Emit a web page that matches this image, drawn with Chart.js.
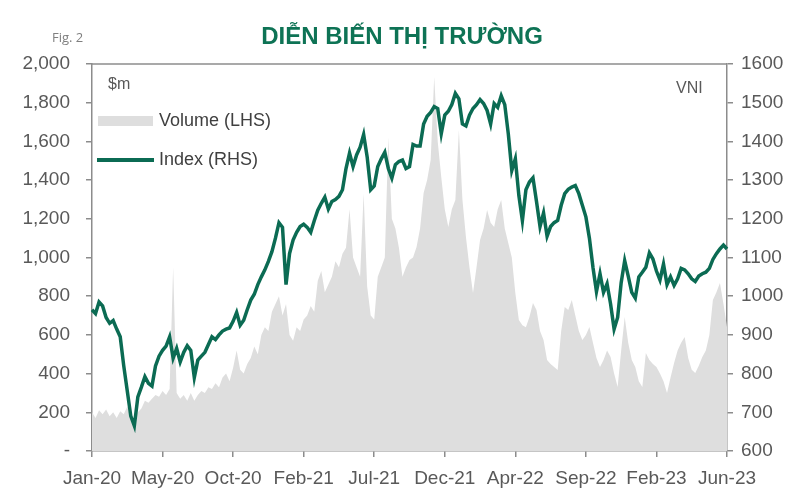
<!DOCTYPE html>
<html>
<head>
<meta charset="utf-8">
<script src="https://cdn.jsdelivr.net/npm/chart.js@4"></script>
<style>
body{margin:0;background:#fff;font-family:"Liberation Sans",Arial,sans-serif}
#wrap{position:relative;width:801px;height:502px}
#chart{position:absolute;left:0;top:0}
.txt{position:absolute;white-space:nowrap}
#fig{left:52px;top:28px;font-size:13px;color:#7f7f7f;font-family:"Open Sans",sans-serif}
#title{left:0;width:804px;text-align:center;top:22px;font-size:24px;font-weight:bold;color:#0e7355}
#unit{left:108px;top:75px;font-size:16px;color:#595959}
#vni{left:676px;top:79px;font-size:16px;color:#595959}
.leg{font-size:18px;color:#404040}
#legVolBox{position:absolute;left:98px;top:116px;width:55px;height:10px;background:#dedede}
#legIdxLine{position:absolute;left:97px;top:158px;width:57px;height:3.5px;background:#0b6b53}
</style>
</head>
<body>
<div id="wrap">
<canvas id="chart" width="801" height="502"></canvas>
<div class="txt" id="fig">Fig. 2</div>
<div class="txt" id="title">DIỄN BIẾN THỊ TRƯỜNG</div>
<div class="txt" id="unit">$m</div>
<div class="txt" id="vni">VNI</div>
<div id="legVolBox"></div>
<div class="txt leg" style="left:159px;top:110px">Volume (LHS)</div>
<div id="legIdxLine"></div>
<div class="txt leg" style="left:159px;top:149px">Index (RHS)</div>
</div>
<script>
// tick labels every 20 points (~97 trading days)
const tickLabels = ["Jan-20","May-20","Oct-20","Feb-21","Jul-21","Dec-21","Apr-22","Sep-22","Feb-23","Jun-23"]
const tickEvery = 20

// traded value, $m (LHS)
const volume = [
200,170,210,190,215,180,200,170,205,190,
230,170,165,200,220,260,250,270,290,280,
310,290,320,950,300,270,290,260,300,260,
290,310,300,330,320,350,330,380,400,360,
430,520,420,400,450,480,540,500,600,640,
620,720,760,800,700,760,600,570,640,620,
680,700,750,720,880,930,820,860,900,980,
950,1020,1050,1250,1000,950,900,1330,850,700,
680,900,950,1000,1620,1200,1150,1050,900,950,
987,1000,1054,1150,1333,1400,1504,1933,1600,1416,
1250,1158,1250,1297,1659,1300,1106,950,816,950,
1090,1150,1245,1180,1158,1250,1297,1150,1075,1000,
816,677,650,640,693,765,729,620,574,470,
450,434,419,620,744,729,780,700,620,574,
600,641,560,480,434,470,520,486,400,331,
520,693,560,470,434,360,331,506,470,450,
434,400,360,300,380,455,520,560,589,480,
420,403,440,486,520,600,780,820,868,760,
641
]

// VN-Index (RHS)
const vni = [
965,955,985,975,945,930,937,915,895,820,
755,690,665,740,765,792,775,768,820,845,
860,871,895,840,865,830,855,872,860,790,
835,845,855,875,895,888,900,910,915,918,
935,958,925,938,965,990,1005,1030,1050,1068,
1090,1115,1150,1190,1178,1030,1110,1145,1165,1180,
1186,1178,1165,1195,1222,1240,1256,1225,1245,1250,
1258,1275,1330,1370,1335,1365,1385,1418,1360,1275,
1285,1335,1355,1372,1330,1305,1340,1348,1352,1330,
1335,1392,1388,1388,1445,1465,1475,1490,1485,1420,
1468,1478,1495,1524,1510,1445,1440,1468,1485,1495,
1508,1498,1480,1445,1498,1488,1518,1495,1420,1325,
1355,1260,1195,1275,1295,1306,1245,1180,1215,1155,
1180,1190,1196,1235,1265,1276,1282,1286,1265,1235,
1205,1150,1075,1012,1058,1010,1032,980,915,945,
1035,1092,1052,1010,995,1050,1062,1075,1112,1096,
1065,1042,1083,1030,1050,1028,1045,1072,1068,1058,
1045,1038,1052,1058,1062,1072,1095,1110,1122,1132,
1122
]

const labels = vni.map((v,i)=>i)

const axisGray = "#8c8c8c"
const textGray = "#595959"
const font = {family:"'Liberation Sans', Arial, sans-serif", size:19}

// top edge of the plot box
const topBorder = {
id:"topBorder",
afterDraw(chart){
const a = chart.chartArea
const ctx = chart.ctx
ctx.save()
ctx.strokeStyle = axisGray
ctx.lineWidth = 1.5
ctx.beginPath()
ctx.moveTo(a.left, a.top)
ctx.lineTo(a.right, a.top)
ctx.stroke()
ctx.restore()
}
}

new Chart(document.getElementById("chart"),{
type:"line",
data:{
labels:labels,
datasets:[
{
label:"Index (RHS)",
data:vni,
yAxisID:"y1",
borderColor:"#0b6b53",
borderWidth:3.5,
pointRadius:0,
tension:0,
order:1
},
{
label:"Volume (LHS)",
data:volume,
yAxisID:"y",
fill:"origin",
backgroundColor:"#dedede",
borderWidth:0,
pointRadius:0,
tension:0,
order:2
}
]
},
options:{
responsive:false,
animation:false,
layout:{padding:{left:0,right:0,top:64,bottom:0}},
plugins:{legend:{display:false},tooltip:{enabled:false}},
scales:{
x:{
offset:false,
grid:{drawOnChartArea:false,drawTicks:true,tickLength:6,color:axisGray,lineWidth:1.5},
border:{color:axisGray,width:1.5},
afterBuildTicks(scale){
scale.ticks = scale.ticks.filter(t=>t.value % tickEvery === 0)
},
afterFit(scale){ scale.height = 51 },
ticks:{
autoSkip:false,
maxRotation:0,
padding:10,
color:textGray,
font:font,
callback:(v)=>tickLabels[v / tickEvery]
}
},
y:{
position:"left",
min:0,max:2000,
grid:{drawOnChartArea:false,drawTicks:true,tickLength:6,color:axisGray,lineWidth:1.5},
border:{color:axisGray,width:1.5},
afterFit(scale){ scale.width = 92 },
ticks:{
stepSize:200,
padding:16,
color:textGray,
font:font,
callback:(v)=> v === 0 ? "-" : v.toLocaleString("en-US")
}
},
y1:{
position:"right",
min:600,max:1600,
grid:{drawOnChartArea:false,drawTicks:true,tickLength:6,color:axisGray,lineWidth:1.5},
border:{color:axisGray,width:1.5},
afterFit(scale){ scale.width = 74 },
ticks:{
stepSize:100,
padding:8,
color:textGray,
font:font,
callback:(v)=>String(v)
}
}
}
},
plugins:[topBorder]
})
</script>
</body>
</html>
